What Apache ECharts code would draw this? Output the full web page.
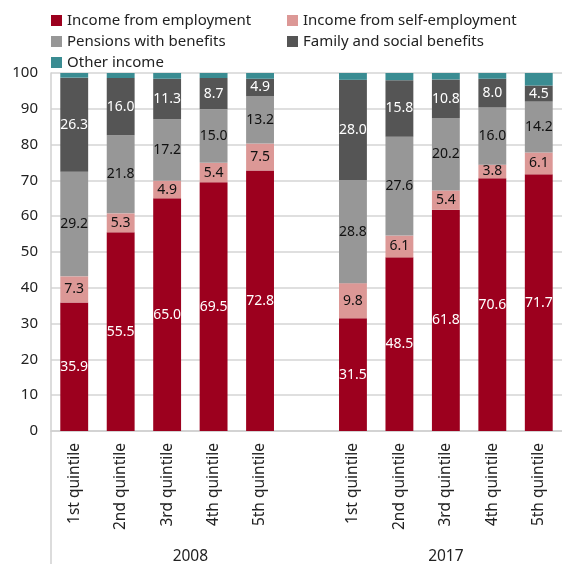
<!DOCTYPE html>
<html>
<head>
<meta charset="utf-8">
<script src="https://cdn.jsdelivr.net/npm/echarts@6/dist/echarts.min.js"></script>
<style>
  html, body { margin: 0; padding: 0; background: #fff; }
  #chart { width: 562px; height: 564px; }
</style>
</head>
<body>
<div id="chart"></div>
<script>
// Quintile categories; an empty slot separates the two years
const categories = ['1st quintile', '2nd quintile', '3rd quintile', '4th quintile', '5th quintile', '',
                    '1st quintile', '2nd quintile', '3rd quintile', '4th quintile', '5th quintile'];
const years = ['2008', '2017'];
const yTicks = [0, 10, 20, 30, 40, 50, 60, 70, 80, 90, 100];

// Income structure by source, % (2008 quintiles, gap, 2017 quintiles)
const employment     = [35.9, 55.5, 65.0, 69.5, 72.8, null, 31.5, 48.5, 61.8, 70.6, 71.7];
const selfEmployment = [7.3, 5.3, 4.9, 5.4, 7.5, null, 9.8, 6.1, 5.4, 3.8, 6.1];
const pensions       = [29.2, 21.8, 17.2, 15.0, 13.2, null, 28.8, 27.6, 20.2, 16.0, 14.2];
const familySocial   = [26.3, 16.0, 11.3, 8.7, 4.9, null, 28.0, 15.8, 10.8, 8.0, 4.5];
const otherIncome    = [1.3, 1.4, 1.6, 1.4, 1.6, null, 1.9, 2.0, 1.8, 1.6, 3.5];

const FONT = 'Noto Sans';

function stackSeries(name, data, color, labelColor) {
  return {
    name: name,
    type: 'bar',
    stack: 'total',
    data: data,
    barWidth: '60%',
    itemStyle: { color: color },
    label: labelColor ? {
      show: true,
      position: 'inside',
      color: labelColor,
      fontFamily: FONT,
      fontSize: 14,
      formatter: p => p.value == null ? '' : p.value.toFixed(1)
    } : { show: false },
    emphasis: { disabled: true }
  };
}

const chart = echarts.init(document.getElementById('chart'));

const legendBase = {
  orient: 'vertical', top: 8, itemGap: 6,
  itemWidth: 11, itemHeight: 11, icon: 'rect',
  textStyle: { fontFamily: FONT, fontSize: 15, color: '#222' }
};

chart.setOption({
  animation: false,
  textStyle: { fontFamily: FONT },
  legend: [
    Object.assign({}, legendBase, {
      left: 46,
      data: ['Income from employment', 'Pensions with benefits', 'Other income']
    }),
    Object.assign({}, legendBase, {
      left: 282,
      data: ['Income from self-employment', 'Family and social benefits']
    })
  ],
  grid: { left: 51, right: 0, top: 73, bottom: 133 },
  xAxis: {
    type: 'category',
    data: categories,
    axisLine: { lineStyle: { color: '#d0d0d0', width: 1.5 } },
    axisTick: { show: false },
    axisLabel: {
      rotate: 90, margin: 12, interval: 0,
      fontFamily: FONT, fontSize: 15.5, color: '#222'
    }
  },
  yAxis: {
    type: 'value',
    min: yTicks[0], max: yTicks[yTicks.length - 1], interval: 10,
    axisLine: { show: true, lineStyle: { color: '#d0d0d0', width: 1.5 } },
    axisTick: { show: false },
    axisLabel: { margin: 13, fontFamily: FONT, fontSize: 15, color: '#222' },
    splitLine: { lineStyle: { color: '#d4d4d4', width: 1.5 } }
  },
  series: [
    stackSeries('Income from employment', employment, '#9c001e', '#ffffff'),
    stackSeries('Income from self-employment', selfEmployment, '#dc9896', '#111111'),
    stackSeries('Pensions with benefits', pensions, '#979797', '#111111'),
    stackSeries('Family and social benefits', familySocial, '#555555', '#ffffff'),
    stackSeries('Other income', otherIncome, '#3a8c92', null)
  ]
});

// Year group labels under the quintile labels, plus the axis line extension
function drawGroups() {
  const x0 = chart.convertToPixel({ xAxisIndex: 0 }, 0);
  const x1 = chart.convertToPixel({ xAxisIndex: 0 }, 1);
  const step = x1 - x0;
  const left = x0 - step / 2;
  const y0 = chart.convertToPixel({ yAxisIndex: 0 }, 0);
  const c2008 = left + step * 3;     // span of slots 0..5
  const c2017 = left + step * 8.5;   // span of slots 6..10
  chart.setOption({
    graphic: [
      { type: 'line', shape: { x1: left, y1: y0, x2: left, y2: 564 },
        style: { stroke: '#d0d0d0', lineWidth: 1.5 }, silent: true },
      { type: 'text', x: c2008, y: 557,
        style: { text: years[0], fontFamily: FONT, fontSize: 15.5, fill: '#222', align: 'center', verticalAlign: 'middle' } },
      { type: 'text', x: c2017, y: 557,
        style: { text: years[1], fontFamily: FONT, fontSize: 15.5, fill: '#222', align: 'center', verticalAlign: 'middle' } }
    ]
  });
}
drawGroups();
</script>
</body>
</html>
